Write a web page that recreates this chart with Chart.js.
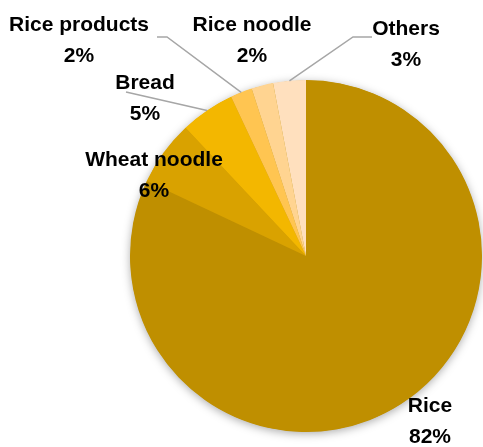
<!DOCTYPE html>
<html>
<head>
<meta charset="utf-8">
<script src="https://cdn.jsdelivr.net/npm/chart.js@4/dist/chart.umd.min.js"></script>
<style>
  html, body { margin: 0; padding: 0; background: #fff; }
  #wrap { width: 483px; height: 447px; }
</style>
</head>
<body>
<div id="wrap"><canvas id="pie"></canvas></div>
<script>
// staple food shares (%)
const categories = ['Rice', 'Wheat noodle', 'Bread', 'Rice products', 'Rice noodle', 'Others'];
const shares = [82, 6, 5, 2, 2, 3];

const sliceColors = ['#BF8F00', '#D9A200', '#F3B700', '#FFC551', '#FFD491', '#FFE0BE'];

// where each label sits, and the elbow of its leader line (null = no line)
const labelBoxes = [
  { x: 430, y: 406, leader: null },
  { x: 154, y: 160, leader: null },
  { x: 145, y: 83, leader: [[126, 92]] },
  { x: 79, y: 25, leader: [[157, 37], [167, 37]] },
  { x: 252, y: 25, leader: null },
  { x: 406, y: 29, leader: [[372, 37], [353, 37]] }
];

const pieShadow = {
  id: 'pieShadow',
  beforeDatasetsDraw(chart) {
    const arc = chart.getDatasetMeta(0).data[0];
    if (!arc) return;
    const ctx = chart.ctx;
    ctx.save();
    ctx.shadowColor = 'rgba(0,0,0,0.35)';
    ctx.shadowBlur = 10;
    ctx.shadowOffsetY = 2;
    ctx.fillStyle = '#BF8F00';
    ctx.beginPath();
    ctx.arc(arc.x, arc.y, arc.outerRadius - 0.5, 0, Math.PI * 2);
    ctx.fill();
    ctx.restore();
  }
};

const sliceLabels = {
  id: 'sliceLabels',
  afterDatasetsDraw(chart) {
    const ctx = chart.ctx;
    const meta = chart.getDatasetMeta(0);
    ctx.save();
    meta.data.forEach((arc, i) => {
      const box = labelBoxes[i];
      if (box.leader) {
        const mid = (arc.startAngle + arc.endAngle) / 2;
        const ex = arc.x + Math.cos(mid) * arc.outerRadius;
        const ey = arc.y + Math.sin(mid) * arc.outerRadius;
        ctx.strokeStyle = '#A6A6A6';
        ctx.lineWidth = 1.5;
        ctx.beginPath();
        box.leader.forEach((p, k) => k ? ctx.lineTo(p[0], p[1]) : ctx.moveTo(p[0], p[1]));
        ctx.lineTo(ex, ey);
        ctx.stroke();
      }
      ctx.fillStyle = '#000';
      ctx.font = 'bold 21px "Liberation Sans", Arial, sans-serif';
      ctx.textAlign = 'center';
      ctx.textBaseline = 'middle';
      ctx.fillText(categories[i], box.x, box.y);
      ctx.fillText(shares[i] + '%', box.x, box.y + 31);
    });
    ctx.restore();
  }
};

new Chart(document.getElementById('pie'), {
  type: 'pie',
  data: {
    labels: categories,
    datasets: [{
      data: shares,
      backgroundColor: sliceColors,
      borderWidth: 0
    }]
  },
  options: {
    responsive: true,
    maintainAspectRatio: false,
    animation: false,
    layout: { padding: { left: 130, right: 1, top: 80, bottom: 15 } },
    plugins: {
      legend: { display: false },
      tooltip: { enabled: false }
    }
  },
  plugins: [pieShadow, sliceLabels]
});
</script>
</body>
</html>
